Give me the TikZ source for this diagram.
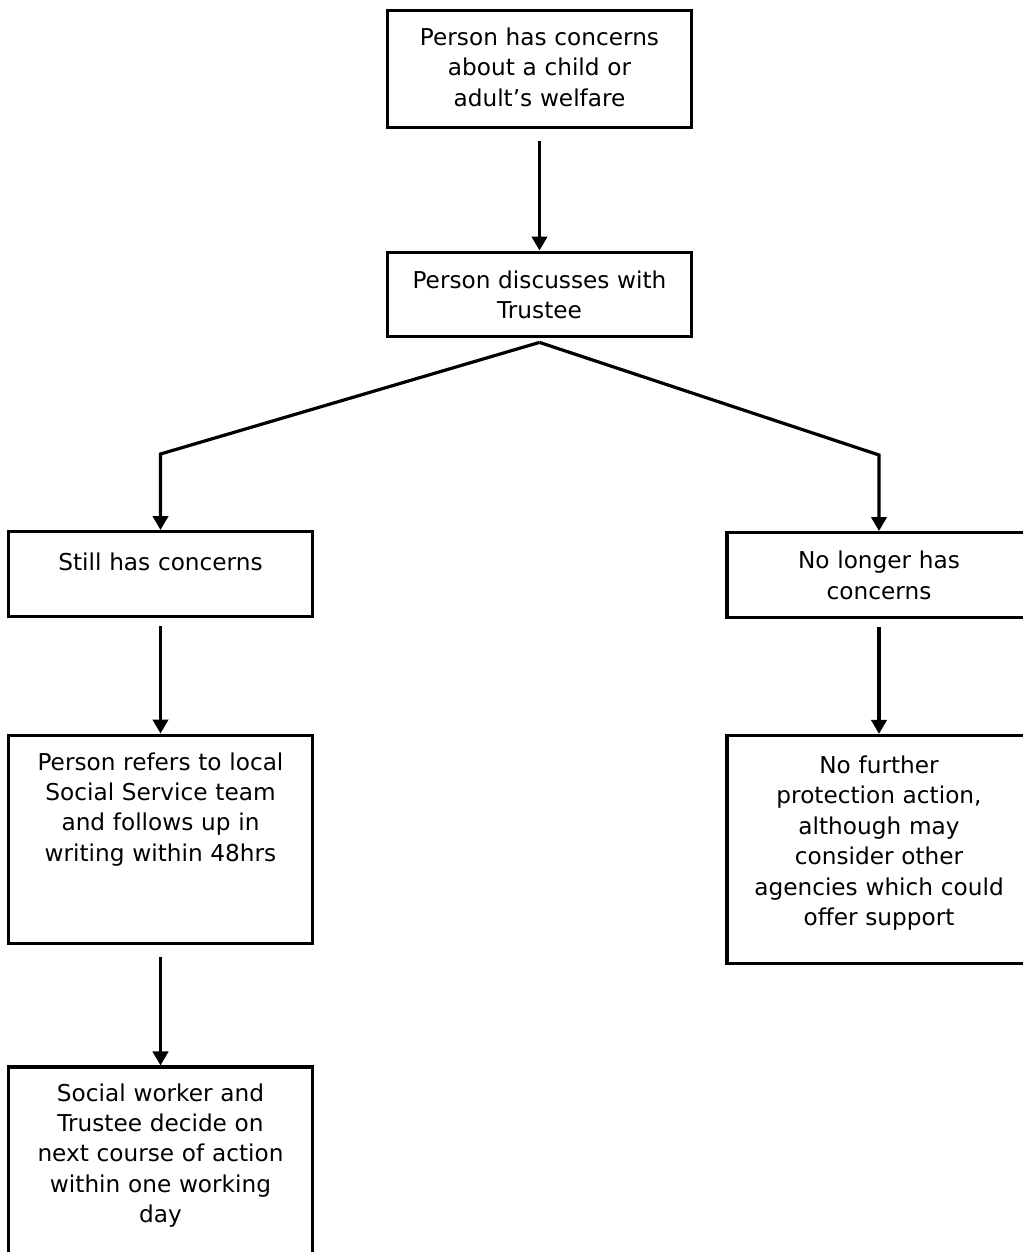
\documentclass[tikz,border=0pt]{standalone}
\usepackage{fontspec}
\setmainfont{DejaVu Sans}
\usetikzlibrary{arrows.meta,positioning}
\tikzset{
  flowbox/.style={rectangle,draw=black,line width=2.4pt,minimum width=228pt,
    text width=205pt,align=center,inner xsep=0pt,inner ysep=0pt,
    font=\fontsize{17.4}{22.8}\selectfont},
  arr/.style={-{Triangle[length=10.5pt,width=11.5pt]},line width=2.4pt}
}

\begin{document}
\begin{tikzpicture}[x=0.75pt,y=-0.75pt]
  \useasboundingbox (0,0) rectangle (1023,1252);
  \clip (0,0) rectangle (1023,1252);
  % centre column
  \node[flowbox,anchor=north,text height=26.25pt,text depth=61.5pt] (concern) at (539.5,9)
    {Person has concerns\\ about a child or\\ adult’s welfare};
  \node[flowbox,below=91pt of concern,text height=27pt,text depth=36pt] (discuss)
    {Person discusses with\\ Trustee};
  % left branch
  \node[flowbox,anchor=north,text height=29.25pt,text depth=34.5pt] (still) at (160.5,530)
    {Still has concerns};
  \node[flowbox,below=86.5pt of still,text height=26.25pt,text depth=129.75pt] (refer)
    {Person refers to local\\ Social Service team\\ and follows up in\\ writing within 48hrs};
  \node[flowbox,below=90.5pt of refer,text height=25.5pt,text depth=123.75pt] (decide)
    {Social worker and\\ Trustee decide on\\ next course of action\\ within one working\\ day};
  % right branch
  \node[flowbox,anchor=north,text height=27pt,text depth=36.75pt] (nolonger) at (879,531)
    {No longer has\\ concerns};
  \node[flowbox,below=86pt of nolonger,text height=28.5pt,text depth=142.5pt] (nofurther)
    {No further\\ protection action,\\ although may\\ consider other\\ agencies which could\\ offer support};

  \coordinate (split) at ([yshift=-3.5pt]discuss.south);
  \draw[arr,shorten <=9pt] (concern) -- (discuss);
  \draw[arr] (split) -- ([yshift=57pt]still.north) -- (still.north);
  \draw[arr] (split) -- ([yshift=57pt]nolonger.north) -- (nolonger.north);
  \draw[arr,shorten <=6pt] (still) -- (refer);
  \draw[arr,shorten <=9pt] (refer) -- (decide);
  \draw[arr,shorten <=6pt] (nolonger) -- (nofurther);
\end{tikzpicture}
\end{document}
